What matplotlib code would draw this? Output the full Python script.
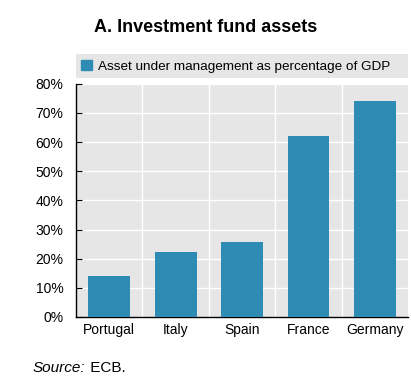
import matplotlib.pyplot as plt
from matplotlib.patches import Patch
from matplotlib.ticker import FuncFormatter

countries = ["Portugal", "Italy", "Spain", "France", "Germany"]
aum_pct_gdp = [14.1, 22.3, 25.8, 62.2, 74.0]
yticks = [0, 10, 20, 30, 40, 50, 60, 70, 80]

bar_color = "#2E8BB4"
panel_grey = "#E6E6E6"

plt.rcParams["font.family"] = ["Liberation Sans", "DejaVu Sans"]

fig = plt.figure(figsize=(4.11, 3.88), dpi=100)
ax = fig.add_axes([0.185, 0.183, 0.808, 0.601])
ax.set_facecolor(panel_grey)

x = range(len(countries))
ax.bar(x, aum_pct_gdp, width=0.63, color=bar_color, zorder=3)

ax.set_xlim(-0.5, len(countries) - 0.5)
ax.set_ylim(0, 80)
ax.set_yticks(yticks)
ax.yaxis.set_major_formatter(FuncFormatter(lambda v, _: f"{v:.0f}%"))
ax.set_xticks(list(x))
ax.set_xticklabels(countries)

# white grid: horizontal at every tick, vertical between categories
for v in yticks[1:]:
    ax.axhline(v, color="white", lw=1.0, zorder=1)
for b in [i + 0.5 for i in range(len(countries) - 1)]:
    ax.axvline(b, color="white", lw=1.0, zorder=1)

for side in ("top", "right"):
    ax.spines[side].set_visible(False)
for side in ("left", "bottom"):
    ax.spines[side].set_color("black")
    ax.spines[side].set_linewidth(1.0)

ax.tick_params(axis="y", direction="in", length=4, labelsize=10, pad=9,
               color="black")
ax.tick_params(axis="x", length=0, labelsize=10, pad=4)

# legend strip above the panel
leg = ax.legend([Patch(color=bar_color)],
                ["Asset under management as percentage of GDP"],
                loc="lower left", bbox_to_anchor=(0.0, 1.025, 1.0, 0.1),
                mode="expand", borderaxespad=0, frameon=True, fontsize=9.7,
                handlelength=0.8, handleheight=0.8, handletextpad=0.4,
                borderpad=0.4)
frame = leg.get_frame()
frame.set_facecolor(panel_grey)
frame.set_edgecolor("none")
frame.set_alpha(1)
frame.set_boxstyle("square", pad=0)

fig.text(0.5, 0.93, "A. Investment fund assets", ha="center", va="center",
         fontsize=13, fontweight="bold")

src = fig.text(0.08, 0.052, "Source:", ha="left", va="center", fontsize=11,
               style="italic")
fig.canvas.draw()
bb = src.get_window_extent().transformed(fig.transFigure.inverted())
fig.text(bb.x1, 0.052, " ECB.", ha="left", va="center", fontsize=11)

fig.savefig("out.png", dpi=100)
